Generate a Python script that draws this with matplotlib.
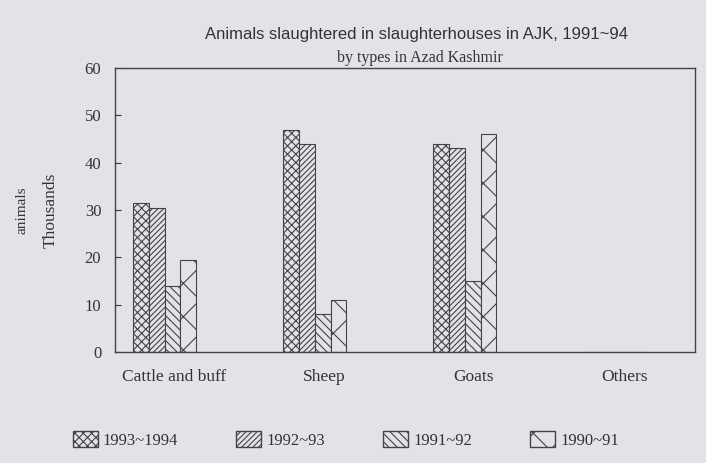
import numpy as np
import matplotlib.pyplot as plt
from matplotlib.patches import Patch

# Datos (miles de animales)
categories = ['Cattle and buff', 'Sheep', 'Goats', 'Others']
series_names = ['1993~1994', '1992~93', '1991~92', '1990~91']
v_1993_94 = [31.5, 47, 44, 0]
v_1992_93 = [30.5, 44, 43, 0]
v_1991_92 = [14, 8, 15, 0]
v_1990_91 = [19.5, 11, 46, 0]
values = [v_1993_94, v_1992_93, v_1991_92, v_1990_91]
hatches = ['xxxx', '//////', '\\\\\\\\', 'x']

plt.rcParams['hatch.linewidth'] = 0.8
plt.rcParams['font.family'] = ['Liberation Serif', 'DejaVu Serif']

bg = '#e4e2e8'
fig = plt.figure(figsize=(7.06, 4.63), dpi=100, facecolor=bg)
ax = fig.add_axes([0.163, 0.24, 0.821, 0.613], facecolor=bg)

x = np.arange(len(categories))
w = 0.105
for i, (vals, h) in enumerate(zip(values, hatches)):
    ax.bar(x + (i - 1.5) * w, vals, w, facecolor=bg, edgecolor='#444444',
           hatch=h, linewidth=0.8)

ax.set_ylim(0, 60)
ax.set_xlim(-0.33, 3.53)
ax.set_yticks(range(0, 61, 10))
ax.set_xticks(x + 0.06)
ax.set_xticklabels(categories)
ax.tick_params(axis='y', direction='in', length=4, labelsize=12, colors='#333333', pad=10)
ax.tick_params(axis='x', length=0, labelsize=12.5, colors='#333333', pad=12)
for s in ax.spines.values():
    s.set_color('#444444')
    s.set_linewidth(1.0)

fig.text(0.031, 0.545, 'animals', rotation=90, ha='center', va='center',
         fontsize=11, color='#333333')
fig.text(0.072, 0.545, 'Thousands', rotation=90, ha='center', va='center',
         fontsize=12.5, color='#333333')

fig.text(0.59, 0.925, 'Animals slaughtered in slaughterhouses in AJK, 1991~94',
         ha='center', va='center', fontsize=12, color='#333333',
         family=['Liberation Sans', 'DejaVu Sans'])
fig.text(0.595, 0.875, 'by types in Azad Kashmir', ha='center', va='center',
         fontsize=11.5, color='#333333')

handles = [Patch(facecolor=bg, edgecolor='#444444', hatch=h, label=n)
           for h, n in zip(hatches, series_names)]
fig.legend(handles=handles, loc='center', bbox_to_anchor=(0.49, 0.05), ncol=4,
           frameon=False, fontsize=12, handlelength=1.5, handleheight=1.1,
           handletextpad=0.3, columnspacing=3.5, labelcolor='#333333')

fig.savefig('out.png', dpi=100, facecolor=bg)
